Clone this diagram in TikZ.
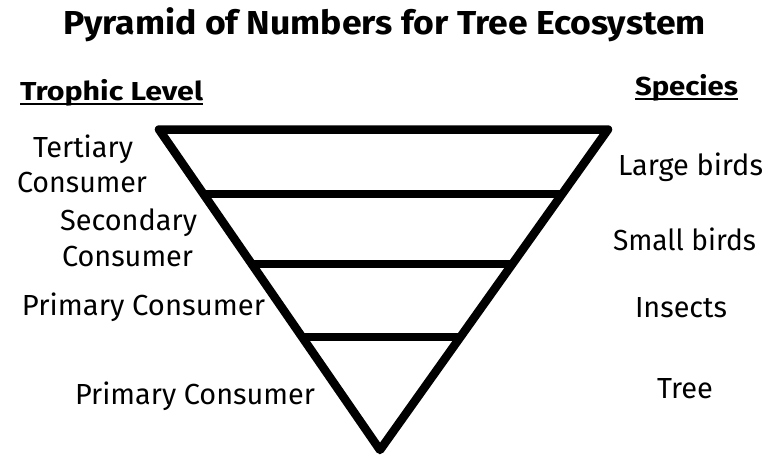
\documentclass[tikz,border=0pt]{standalone}
\usepackage{fontspec}
\usepackage{graphicx}
\setmainfont{Fira Sans}
\usetikzlibrary{calc}
\newcommand\fitbox[4]{{#3\sbox0{#4}\dimen2=\fontcharht\font`H\relax
  \pgfmathsetmacro\sxf{#1/\the\wd0}\pgfmathsetmacro\syf{#2/\the\dimen2}%
  \scalebox{\sxf}[\syf]{\usebox0}}}
\tikzset{
  lbl/.style={anchor=base west, inner sep=0pt, outer sep=0pt},
  pyr/.style={line width=8.5pt, line join=round, line cap=round},
  uline/.style={line width=2pt}
}
\begin{document}
\begin{tikzpicture}[x=1pt,y=-1pt]
\useasboundingbox (0,0) rectangle (779,461);
% title and headers
\node[lbl] (title) at (63,34) {\fitbox{643}{23}{\bfseries}{Pyramid of Numbers for Tree Ecosystem}};
\node[lbl] (tl) at (20,100) {\fitbox{183}{18}{\bfseries}{Trophic Level}};
\node[lbl] (sp) at (635,95) {\fitbox{103}{18}{\bfseries}{Species}};
\draw[uline] ([yshift=-4pt]tl.base west) -- ([yshift=-4pt]tl.base east);
\draw[uline] ([yshift=-4pt]sp.base west) -- ([yshift=-4pt]sp.base east);
% pyramid
\coordinate (TL) at (159,129.5);
\coordinate (TR) at (608,129.5);
\coordinate (B) at (380,450);
\draw[pyr] (TL) -- (TR) -- (B) -- cycle;
\draw[pyr, line cap=butt] ($(TL)!0.2012!(B)$) coordinate (l1) -- ($(TR)!0.2012!(B)$) coordinate (r1);
\draw[pyr, line cap=butt] ($(TL)!0.4197!(B)$) coordinate (l2) -- ($(TR)!0.4197!(B)$) coordinate (r2);
\draw[pyr, line cap=butt] ($(TL)!0.6474!(B)$) coordinate (l3) -- ($(TR)!0.6474!(B)$) coordinate (r3);
% left labels
\node[lbl] (t1) at (33,157) {\fitbox{100}{20}{}{Tertiary}};
\node[lbl] (t2) at (17,192) {\fitbox{130}{20}{}{Consumer}};
\node[lbl] (s1) at (60,230) {\fitbox{137}{20}{}{Secondary}};
\node[lbl] (s2) at (62,266) {\fitbox{131}{20}{}{Consumer}};
\node[lbl] (p1) at (22,315) {\fitbox{243}{20}{}{Primary Consumer}};
\node[lbl] (p2) at (75,404) {\fitbox{240}{20}{}{Primary Consumer}};
% right labels
\node[lbl] (r1t) at (618,175) {\fitbox{145}{20}{}{Large birds}};
\node[lbl] (r2t) at (613,250) {\fitbox{143}{20}{}{Small birds}};
\node[lbl] (r3t) at (635,317) {\fitbox{92}{20}{}{Insects}};
\node[lbl] (r4t) at (657,398) {\fitbox{56}{20}{}{Tree}};
\end{tikzpicture}
\end{document}
